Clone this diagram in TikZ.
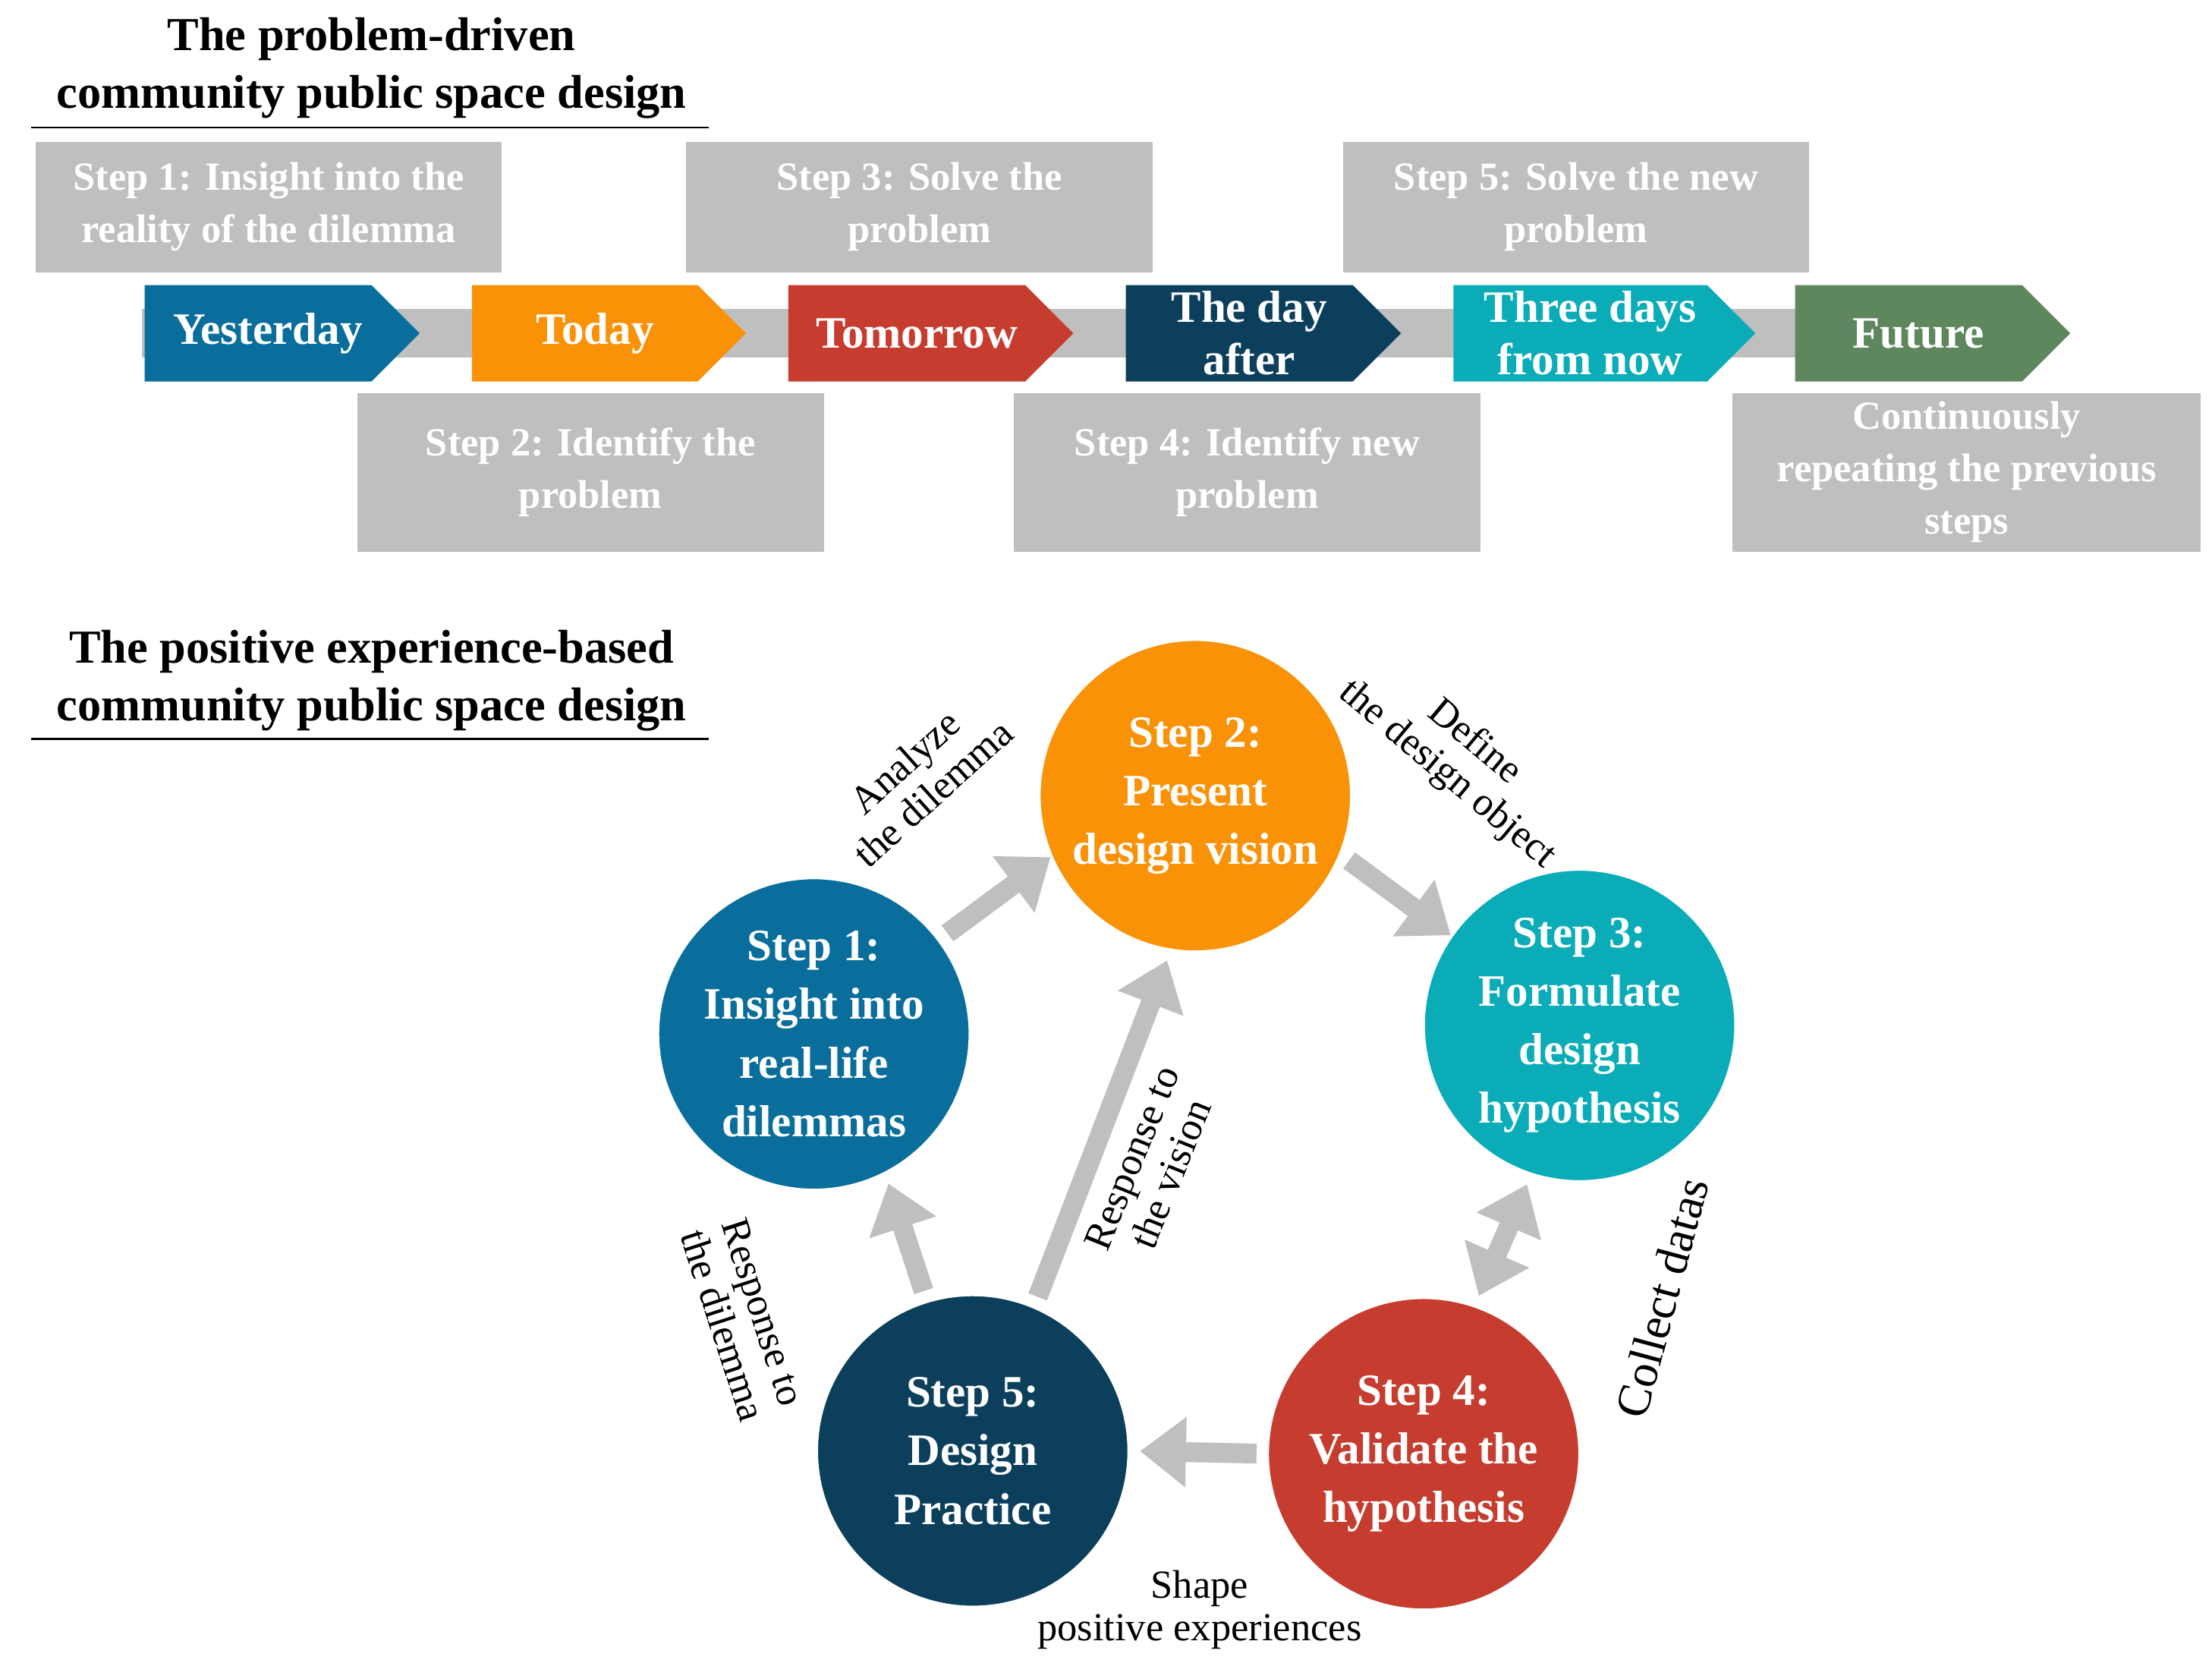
\documentclass[tikz,border=0pt]{standalone}
\usepackage{fontspec}
\setmainfont{Liberation Serif}
\usetikzlibrary{arrows.meta}
\definecolor{cY}{HTML}{0A6E9C}
\definecolor{cT}{HTML}{FA9208}
\definecolor{cM}{HTML}{C63D30}
\definecolor{cD}{HTML}{0B3F5C}
\definecolor{cH}{HTML}{0AACB8}
\definecolor{cF}{HTML}{5E875E}
\definecolor{gb}{HTML}{BFBFBF}
\tikzset{
 x=0.02cm,y=-0.02cm,
 title/.style={font=\bfseries\fontsize{19}{23}\selectfont,align=center},
 gbox/.style={fill=gb,text=white,font=\bfseries\fontsize{16}{21}\selectfont,align=center},
 chev/.style={text=white,font=\bfseries\fontsize{18}{21}\selectfont,align=center},
 circ/.style={circle,minimum size=4.4cm,inner sep=0pt,draw=white,line width=1pt,text=white,font=\bfseries\fontsize{18}{23.5}\selectfont,align=center},
 arr/.style={line width=0.28cm,gb,-{Triangle[width=0.95cm,length=0.65cm]}},
 lab/.style={font=\fontsize{16}{17}\selectfont,align=center}
}
\newcommand{\chevron}[5]{%
 \fill[#4] (#1,201) -- (#2-34,201) -- (#2,235) -- (#2-34,269) -- (#1,269) -- cycle;
 \node[chev] (#5) at ({(#1+#2-20)/2},235) {#3};}
\begin{document}
\begin{tikzpicture}
\useasboundingbox (0,0) rectangle (1560,1170);
% titles
\node[title] (t1) at (262,48) {The problem-driven\\community public space design};
\draw[line width=0.8pt] (22,90) -- (500,90);
\node[title] (t2) at (262,480) {The positive experience-based\\community public space design};
\draw[line width=0.8pt] (22,521) -- (500,521);
% band
\fill[gb] (100,218) rectangle (1440,252);
\chevron{102}{296}{Yesterday}{cY}{c1}
\chevron{333}{526}{Today}{cT}{c2}
\chevron{556}{757}{Tomorrow}{cM}{c3}
\chevron{794}{988}{The day\\after}{cD}{c4}
\chevron{1025}{1238}{Three days\\from now}{cH}{c5}
\chevron{1266}{1460}{Future}{cF}{c6}
% grey boxes
\node[gbox,minimum width=6.58cm,minimum height=1.84cm] (b1) at (189.5,146) {Step 1: Insight into the\\reality of the dilemma};
\node[gbox,minimum width=6.58cm,minimum height=1.84cm] (b3) at (648.5,146) {Step 3: Solve the\\problem};
\node[gbox,minimum width=6.58cm,minimum height=1.84cm] (b5) at (1111.5,146) {Step 5: Solve the new\\problem};
\node[gbox,minimum width=6.58cm,minimum height=2.24cm] (b2) at (416.5,333) {Step 2: Identify the\\problem};
\node[gbox,minimum width=6.58cm,minimum height=2.24cm] (b4) at (879.5,333) {Step 4: Identify new\\problem};
\node[gbox,minimum width=6.6cm,minimum height=2.24cm] (b6) at (1387,333) {Continuously\\repeating the previous\\steps};
% circles
\node[circ,fill=cT] (s2) at (843,561) {Step 2:\\Present\\design vision};
\node[circ,fill=cY] (s1) at (574,729) {Step 1:\\Insight into\\real-life\\dilemmas};
\node[circ,fill=cH] (s3) at (1114,723) {Step 3:\\Formulate\\design\\hypothesis};
\node[circ,fill=cM] (s4) at (1004,1025) {Step 4:\\Validate the\\hypothesis};
\node[circ,fill=cD] (s5) at (686,1023) {Step 5:\\Design\\Practice};
% arrows
\draw[arr,shorten <=4pt] (s1.37) -- (s2.203);
\draw[arr,shorten <=4pt] (s2.-22) -- (s3.145);
\draw[arr,{Triangle[width=0.95cm,length=0.65cm]}-{Triangle[width=0.95cm,length=0.65cm]},shorten <=4pt,shorten >=4pt] (s4.71) -- (s3.252);
\draw[arr,shorten <=4pt,shorten >=4pt] (s4.180) -- (s5.0);
\draw[arr,shorten <=4pt,shorten >=4pt] (s5.107) -- (s1.297);
\draw[arr,shorten <=4pt,shorten >=4pt] (s5.67) -- (s2.261);
% labels
\node[lab,rotate=42] (l1) at (648,548) {Analyze\\the dilemma};
\node[lab,rotate=-40] (l2) at (1030,535) {Define\\the design object};
\node[lab,rotate=68] (l3) at (812,822) {Response to\\the vision};
\node[lab,rotate=-72] (l4) at (524,930) {Response to\\the dilemma};
\node[lab,rotate=75,font=\fontsize{19}{21}\selectfont] (l5) at (1172,915) {Collect datas};
\node[lab] (l6) at (846,1135) {Shape\\positive experiences};
\end{tikzpicture}
\end{document}
